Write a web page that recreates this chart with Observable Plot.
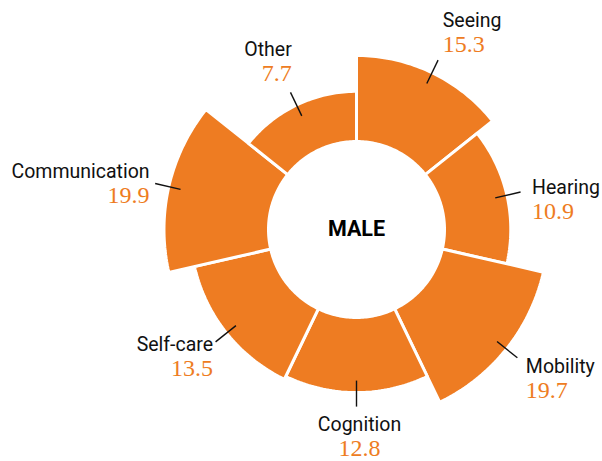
<!DOCTYPE html>
<html>
<head>
<meta charset="utf-8">
<script src="https://cdn.jsdelivr.net/npm/d3@7"></script>
<script src="https://cdn.jsdelivr.net/npm/@observablehq/plot@0.6"></script>
<style>
  html, body { margin: 0; padding: 0; background: #fff; }
  #chart svg { display: block; }
</style>
</head>
<body>
<div id="chart"></div>
<script>
// ---- data ----
const categories = ["Seeing", "Hearing", "Mobility", "Cognition", "Self-care", "Communication", "Other"];
const values = [15.3, 10.9, 19.7, 12.8, 13.5, 19.9, 7.7];
const centerLabel = "MALE";

// ---- style ----
const ORANGE = "#ee7c22";
const W = 602, H = 461;

// radial scale: area-proportional bars starting at the inner hole
const r = d3.scaleRadial().domain([0, 20]).range([88, 192.9]);
const r0 = r(0);
const n = categories.length;
const step = 2 * Math.PI / n;

const rows = categories.map((c, i) => ({cat: c, value: values[i], i}));

// polygon outline of each wedge (clockwise from north)
const pts = [];
for (const d of rows) {
  const a0 = d.i * step, a1 = (d.i + 1) * step, R = r(d.value);
  const seg = 48;
  const ring = [];
  for (let k = 0; k <= seg; k++) { const a = a0 + (a1 - a0) * k / seg; ring.push([R * Math.sin(a), R * Math.cos(a)]); }
  for (let k = seg; k >= 0; k--) { const a = a0 + (a1 - a0) * k / seg; ring.push([r0 * Math.sin(a), r0 * Math.cos(a)]); }
  ring.push(ring[0]);
  for (const [x, y] of ring) pts.push({cat: d.cat, x, y});
}

// leader lines and label anchors
const labels = rows.map(d => {
  const a = (d.i + 0.5) * step, s = Math.sin(a), c = Math.cos(a), R = r(d.value);
  const ex = (R + 14) * s, ey = (R + 14) * c;
  const off = (Math.abs(c) > 0.4 ? -31 * c - 3 : 2) + 4 * s; // screen-down offset of label block centre
  return {
    ...d,
    x1: (R - 12) * s, y1: (R - 12) * c, x2: ex, y2: ey,
    tx: ex + 9 * s * Math.abs(s) + 3,
    ty: ey - off,
    anchor: s > 0.1 ? "start" : s < -0.1 ? "end" : "middle"
  };
});

const nameFont = {fontFamily: "Roboto, sans-serif", fontSize: 19.5, fill: "#111"};
const valueFont = {fontFamily: "'Liberation Serif', serif", fontSize: 24, fill: ORANGE};

const textMarks = [];
for (const anchor of ["start", "end", "middle"]) {
  const sub = labels.filter(d => d.anchor === anchor);
  textMarks.push(Plot.text(sub, {x: "tx", y: "ty", text: "cat", textAnchor: anchor, lineAnchor: "bottom", dy: -4, ...nameFont}));
  textMarks.push(Plot.text(sub, {x: "tx", y: "ty", text: d => d.value.toFixed(1), textAnchor: anchor, lineAnchor: "top", dy: 4, ...valueFont}));
}

const chart = Plot.plot({
  width: W,
  height: H,
  margin: 0,
  x: {domain: [-356, W - 356], axis: null},
  y: {domain: [-(H - 229), 229], axis: null},
  marks: [
    Plot.line(pts, {x: "x", y: "y", z: "cat", fill: ORANGE, stroke: "white", strokeWidth: 3, strokeLinejoin: "miter", curve: "linear"}),
    Plot.link(labels, {x1: "x1", y1: "y1", x2: "x2", y2: "y2", stroke: "#111", strokeWidth: 1.4}),
    ...textMarks,
    Plot.text([centerLabel], {x: () => 0, y: () => 0, text: d => d, fontFamily: "Roboto, sans-serif", fontWeight: "bold", fontSize: 21.5, fill: "#000", textAnchor: "middle"})
  ]
});
document.getElementById("chart").appendChild(chart);
</script>
</body>
</html>
